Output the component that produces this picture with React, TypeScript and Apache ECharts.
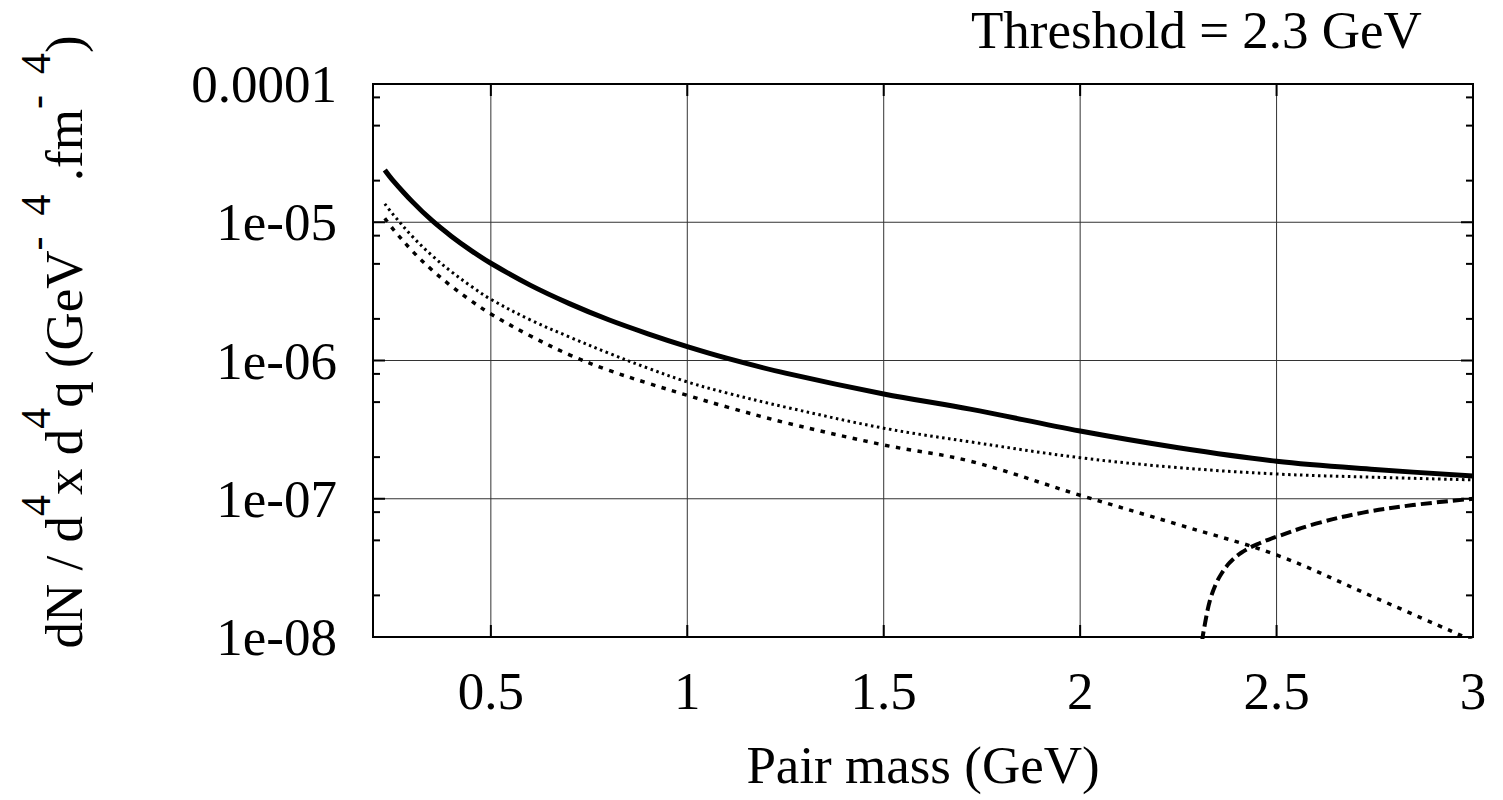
import React, { useEffect, useRef } from "react";
import * as echarts from "echarts";

// ---- data ----
const X_VALUES = [0.23, 0.25, 0.3, 0.35, 0.4, 0.45, 0.5, 0.6, 0.7, 0.8, 0.9, 1.0, 1.1, 1.25, 1.5, 1.72, 2.0, 2.25, 2.5, 2.75, 3.0];
const TOTAL = [2.39e-5, 2.02e-5, 1.41e-5, 1.03e-5, 7.9e-6, 6.24e-6, 5.05e-6, 3.51e-6, 2.58e-6, 1.97e-6, 1.56e-6, 1.26e-6, 1.04e-6, 8.1e-7, 5.73e-7, 4.45e-7, 3.09e-7, 2.34e-7, 1.87e-7, 1.63e-7, 1.46e-7];
const DOTTED = [1.36e-5, 1.15e-5, 7.9e-6, 5.75e-6, 4.38e-6, 3.44e-6, 2.77e-6, 1.97e-6, 1.48e-6, 1.13e-6, 8.8e-7, 7.0e-7, 5.83e-7, 4.6e-7, 3.24e-7, 2.58e-7, 1.98e-7, 1.68e-7, 1.51e-7, 1.43e-7, 1.37e-7];
const SHORT_DASH = [1.07e-5, 9.0e-6, 6.2e-6, 4.52e-6, 3.44e-6, 2.7e-6, 2.17e-6, 1.51e-6, 1.1e-6, 8.5e-7, 6.85e-7, 5.6e-7, 4.62e-7, 3.55e-7, 2.45e-7, 1.87e-7, 1.06e-7, 6.5e-8, 3.92e-8, 1.93e-8, 9.4e-9];
const THRESH_X = [2.303, 2.31, 2.318, 2.33, 2.345, 2.36, 2.38, 2.41, 2.45, 2.5, 2.6, 2.72, 2.847, 3.0];
const THRESH_Y = [3.16e-9, 8.9e-9, 1.26e-8, 1.82e-8, 2.4e-8, 2.88e-8, 3.43e-8, 4.07e-8, 4.68e-8, 5.31e-8, 6.6e-8, 7.94e-8, 9.0e-8, 1.0e-7];

const X_MIN = 0.2;
const X_MAX = 3;
const Y_MIN = 1e-8;
const Y_MAX = 1e-4;
const X_TICKS = [0.5, 1, 1.5, 2, 2.5];
const X_TICK_LABELS = [0.5, 1, 1.5, 2, 2.5, 3];
const Y_TICKS = [1e-7, 1e-6, 1e-5];
const Y_TICK_LABELS = ["1e-08", "1e-07", "1e-06", "1e-05", "0.0001"];
const Y_MINOR = [2e-8, 5e-8, 8e-8, 2e-7, 5e-7, 8e-7, 2e-6, 5e-6, 8e-6, 2e-5, 5e-5, 8e-5];

const FONT = "'Liberation Serif', 'Times New Roman', 'DejaVu Serif', serif";

const tickData: number[][] = [
  ...X_TICKS.map((v) => [v, Y_MIN, 0]),
  ...Y_TICKS.map((v) => [X_MIN, v, 1]),
  ...Y_MINOR.map((v) => [X_MIN, v, 2]),
];

function renderTicks(params: any, api: any) {
  const cs = params.coordSys;
  const kind = api.value(2);
  const children: any[] = [];
  const grid = { stroke: "#333", lineWidth: 1 };
  const tick = { stroke: "#000", lineWidth: 2 };
  if (kind === 0) {
    const px = api.coord([api.value(0), api.value(1)])[0];
    children.push({ type: "line", shape: { x1: px, y1: cs.y, x2: px, y2: cs.y + cs.height }, style: grid });
    children.push({ type: "line", shape: { x1: px, y1: cs.y + cs.height, x2: px, y2: cs.y + cs.height - 12 }, style: tick });
    children.push({ type: "line", shape: { x1: px, y1: cs.y, x2: px, y2: cs.y + 12 }, style: tick });
  } else {
    const py = api.coord([api.value(0), api.value(1)])[1];
    const len = kind === 1 ? 12 : 7;
    if (kind === 1) {
      children.push({ type: "line", shape: { x1: cs.x, y1: py, x2: cs.x + cs.width, y2: py }, style: grid });
    }
    children.push({ type: "line", shape: { x1: cs.x, y1: py, x2: cs.x + len, y2: py }, style: tick });
    children.push({ type: "line", shape: { x1: cs.x + cs.width, y1: py, x2: cs.x + cs.width - len, y2: py }, style: tick });
  }
  return { type: "group", children };
}

function lineSeries(name: string, xs: number[], ys: number[], lineStyle: any) {
  return {
    name,
    type: "line",
    data: xs.map((x, i) => [x, ys[i]]),
    showSymbol: false,
    symbol: "none",
    smooth: 0.35,
    clip: true,
    z: 3,
    lineStyle: { color: "#000", cap: "butt", join: "round", ...lineStyle },
  };
}

export default function App() {
  const ref = useRef<HTMLDivElement>(null);
  useEffect(() => {
    const chart = echarts.init(ref.current!, null, { renderer: "svg" });
    const option: any = {
      animation: false,
      backgroundColor: "#fff",
      title: {
        text: "Threshold = 2.3 GeV",
        left: 971,
        top: 3,
        padding: 0,
        textStyle: { fontSize: 53, fontWeight: "normal", fontFamily: FONT, color: "#000" },
      },
      grid: { left: 373, right: 30, top: 84, bottom: 163, show: true, borderColor: "#000", borderWidth: 2, backgroundColor: "transparent" },
      xAxis: {
        type: "value",
        min: X_MIN,
        max: X_MAX,
        interval: 0.1,
        axisLine: { show: false },
        axisTick: { show: false },
        splitLine: { show: false },
        axisLabel: {
          fontSize: 53,
          fontFamily: FONT,
          color: "#000",
          margin: 27,
          showMinLabel: true,
          showMaxLabel: true,
          formatter: (v: number) => {
            const hit = X_TICK_LABELS.find((t) => Math.abs(t - v) < 1e-6);
            return hit === undefined ? "" : String(hit);
          },
        },
        name: "Pair mass (GeV)",
        nameLocation: "middle",
        nameGap: 101,
        nameTextStyle: { fontSize: 53, fontFamily: FONT, color: "#000" },
      },
      yAxis: {
        type: "log",
        logBase: 10,
        min: Y_MIN,
        max: Y_MAX,
        axisLine: { show: false },
        axisTick: { show: false },
        splitLine: { show: false },
        minorTick: { show: false },
        axisLabel: {
          fontSize: 53,
          fontFamily: FONT,
          color: "#000",
          margin: 36,
          formatter: (v: number) => Y_TICK_LABELS[Math.round(Math.log10(v)) + 8] ?? "",
        },
      },
      graphic: [
        {
          type: "text",
          x: 64,
          y: 342,
          rotation: Math.PI / 2,
          style: {
            text: "{m|dN / d}{s|4}{m|x d}{s|4}{m|q (GeV}{s|-  4}{m| .fm}{s|-  4}{m|)}",
            align: "center",
            verticalAlign: "middle",
            fill: "#000",
            rich: {
              m: { fontSize: 53, fontFamily: FONT, fill: "#000" },
              s: { fontSize: 42, fontFamily: FONT, fill: "#000", verticalAlign: "top", padding: [0, 0, 56, 0] },
            },
          },
        },
      ],
      series: [
        {
          type: "custom",
          renderItem: renderTicks,
          data: tickData,
          silent: true,
          z: 1,
          encode: { x: 0, y: 1 },
        },
        lineSeries("total", X_VALUES, TOTAL, { width: 5, type: "solid" }),
        lineSeries("dotted", X_VALUES, DOTTED, { width: 3, type: [2.5, 3.5] }),
        lineSeries("short dash", X_VALUES, SHORT_DASH, { width: 3.5, type: [4.5, 6.5] }),
        lineSeries("threshold", THRESH_X, THRESH_Y, { width: 4, type: [11, 5] }),
      ],
    };
    chart.setOption(option);
    return () => chart.dispose();
  }, []);
  return (
    <div
      ref={ref}
      style={{ position: "absolute", left: 0, top: 0, width: 1503, height: 800, background: "#fff" }}
    />
  );
}
